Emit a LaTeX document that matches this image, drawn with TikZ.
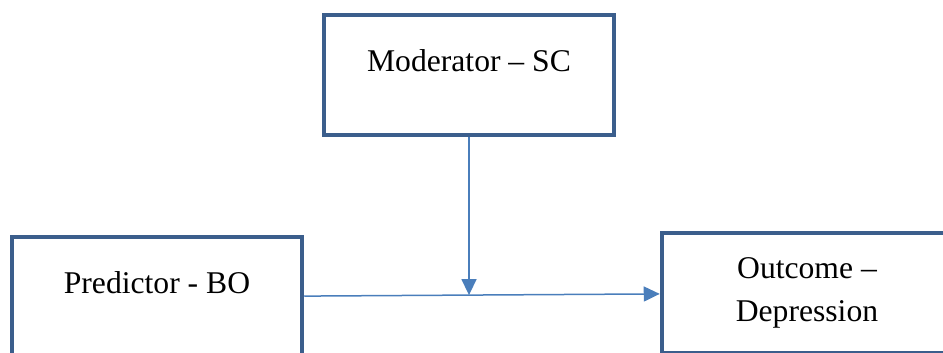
\documentclass[tikz,border=0pt]{standalone}
\usepackage{fontspec}
\setmainfont{Liberation Serif}
\usepackage{tikz}
\usetikzlibrary{arrows.meta}

\definecolor{boxblue}{HTML}{3B5E8C}
\definecolor{arrowblue}{HTML}{4A7EBB}

\begin{document}
\begin{tikzpicture}[node distance=4.44cm]
\tikzstyle{varbox} = [rectangle, minimum width=5.8cm, minimum height=2.4cm, text centered, draw=boxblue, line width=0.09cm, fill=white, font=\fontsize{18pt}{24.4pt}\selectfont]
\tikzstyle{arrow} = [line width=0.03cm, draw=arrowblue, fill=arrowblue, ->, >={Triangle[length=0.32cm, width=0.3cm]}]

\useasboundingbox (-9.38,-5.54) rectangle (9.48,1.5);
\clip (-9.38,-5.54) rectangle (9.48,1.5);

\node (mod) [varbox, text depth=0.58cm] {Moderator -- SC};
\node (pred) [varbox, text depth=0.58cm, below of=mod, xshift=-6.24cm] {Predictor - BO};
\node (out) [varbox, align=center, right of=pred, xshift=8.56cm, yshift=0.08cm] {Outcome --\\Depression};

% point on the main path where the moderator arrow lands
\path (pred) -- (out) coordinate[pos=0.46] (join);

\draw [arrow] (pred) -- (out);
\draw [arrow] (mod.south) -- (mod.south |- join);
\end{tikzpicture}
\end{document}
